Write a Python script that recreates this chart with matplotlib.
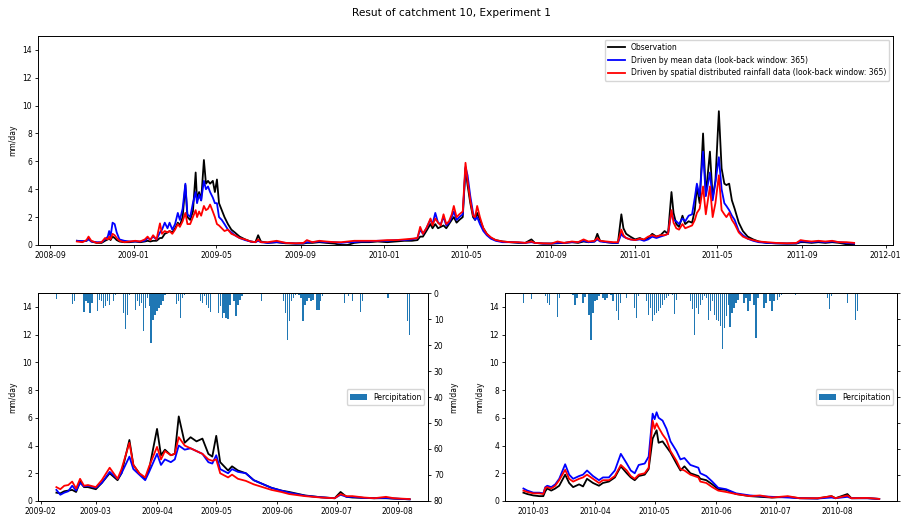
import matplotlib
matplotlib.use("Agg")
import matplotlib.pyplot as plt
import matplotlib.dates as mdates
import pandas as pd

# ---- top panel: whole test period ----
top_dates = [
    "2008-10-10", "2008-10-18", "2008-10-24", "2008-10-27", "2008-10-31", "2008-11-08",
    "2008-11-15", "2008-11-20", "2008-11-24", "2008-11-26", "2008-11-28", "2008-12-01",
    "2008-12-04", "2008-12-07", "2008-12-11", "2008-12-18", "2008-12-26", "2009-01-03",
    "2009-01-10", "2009-01-17", "2009-01-21", "2009-01-25", "2009-01-29", "2009-02-03",
    "2009-02-08", "2009-02-11", "2009-02-15", "2009-02-19", "2009-02-22", "2009-02-26",
    "2009-03-02", "2009-03-06", "2009-03-09", "2009-03-13", "2009-03-17", "2009-03-20",
    "2009-03-24", "2009-03-28", "2009-04-01", "2009-04-03", "2009-04-06", "2009-04-09",
    "2009-04-13", "2009-04-16", "2009-04-19", "2009-04-22", "2009-04-26", "2009-04-29",
    "2009-05-02", "2009-05-05", "2009-05-09", "2009-05-13", "2009-05-18", "2009-05-23",
    "2009-05-28", "2009-06-04", "2009-06-12", "2009-06-20", "2009-06-27", "2009-07-01",
    "2009-07-05", "2009-07-15", "2009-07-28", "2009-08-10", "2009-08-25", "2009-09-05",
    "2009-09-10", "2009-09-18", "2009-09-28", "2009-10-08", "2009-10-20", "2009-10-30",
    "2009-11-08", "2009-11-18", "2009-11-28", "2009-12-10", "2009-12-22", "2010-01-05",
    "2010-01-18", "2010-01-30", "2010-02-10", "2010-02-18", "2010-02-22", "2010-02-26",
    "2010-03-03", "2010-03-09", "2010-03-12", "2010-03-16", "2010-03-20", "2010-03-24",
    "2010-03-28", "2010-04-01", "2010-04-05", "2010-04-09", "2010-04-12", "2010-04-16",
    "2010-04-20", "2010-04-25", "2010-04-29", "2010-05-02", "2010-05-06", "2010-05-10",
    "2010-05-13", "2010-05-16", "2010-05-20", "2010-05-25", "2010-05-30", "2010-06-05",
    "2010-06-12", "2010-06-22", "2010-07-03", "2010-07-15", "2010-07-25", "2010-08-03",
    "2010-08-08", "2010-08-20", "2010-09-01", "2010-09-10", "2010-09-20", "2010-10-01",
    "2010-10-10", "2010-10-18", "2010-10-25", "2010-11-03", "2010-11-07", "2010-11-11",
    "2010-11-20", "2010-11-30", "2010-12-07", "2010-12-12", "2010-12-15", "2010-12-19",
    "2010-12-25", "2011-01-01", "2011-01-08", "2011-01-14", "2011-01-20", "2011-01-26",
    "2011-02-01", "2011-02-07", "2011-02-13", "2011-02-18", "2011-02-23", "2011-02-26",
    "2011-03-02", "2011-03-06", "2011-03-11", "2011-03-15", "2011-03-20", "2011-03-25",
    "2011-03-29", "2011-04-01", "2011-04-05", "2011-04-10", "2011-04-14", "2011-04-20",
    "2011-04-24", "2011-04-28", "2011-05-03", "2011-05-07", "2011-05-11", "2011-05-14",
    "2011-05-18", "2011-05-22", "2011-05-26", "2011-06-01", "2011-06-07", "2011-06-14",
    "2011-06-22", "2011-06-30", "2011-07-12", "2011-07-25", "2011-08-10", "2011-08-24",
    "2011-08-30", "2011-09-05", "2011-09-15", "2011-09-25", "2011-10-05", "2011-10-15",
    "2011-10-25", "2011-11-05", "2011-11-16",
]
top_obs = [
    0.3, 0.25, 0.3, 0.45, 0.25, 0.15, 0.15, 0.3, 0.4, 0.5, 0.35, 0.6,
    0.5, 0.35, 0.25, 0.2, 0.2, 0.25, 0.2, 0.25, 0.3, 0.25, 0.3, 0.3,
    0.5, 0.5, 0.8, 0.9, 1.0, 0.9, 1.2, 1.6, 1.4, 2.0, 4.3, 2.0,
    1.8, 2.4, 5.2, 3.2, 3.8, 3.2, 6.1, 4.4, 4.6, 4.4, 4.6, 3.8,
    4.7, 3.0, 2.5, 2.0, 1.5, 1.1, 0.9, 0.6, 0.4, 0.25, 0.2, 0.7,
    0.25, 0.15, 0.2, 0.12, 0.1, 0.1, 0.15, 0.15, 0.2, 0.15, 0.1, 0.0,
    0.0, 0.15, 0.2, 0.2, 0.25, 0.2, 0.25, 0.3, 0.3, 0.35, 0.6, 0.6,
    1.0, 1.5, 1.2, 1.5, 1.2, 1.3, 1.4, 1.2, 1.5, 1.8, 2.0, 1.6,
    1.8, 2.0, 5.5, 4.3, 3.0, 2.0, 1.8, 2.3, 1.8, 1.2, 0.8, 0.5,
    0.35, 0.25, 0.2, 0.15, 0.15, 0.4, 0.15, 0.1, 0.1, 0.12, 0.15, 0.2,
    0.15, 0.25, 0.2, 0.25, 0.8, 0.3, 0.2, 0.15, 0.15, 2.2, 1.2, 0.8,
    0.6, 0.4, 0.5, 0.35, 0.5, 0.8, 0.6, 0.7, 1.0, 0.8, 3.8, 2.3,
    1.5, 1.3, 2.1, 1.5, 1.7, 1.6, 2.5, 4.2, 3.0, 8.0, 3.6, 6.7,
    3.4, 4.6, 9.6, 5.5, 4.4, 4.3, 4.4, 3.2, 2.6, 1.6, 1.0, 0.6,
    0.4, 0.25, 0.15, 0.12, 0.1, 0.1, 0.2, 0.2, 0.15, 0.2, 0.15, 0.2,
    0.15, 0.05, 0.05,
]
top_mean = [
    0.3, 0.28, 0.3, 0.4, 0.25, 0.2, 0.2, 0.4, 0.6, 1.0, 0.6, 1.6,
    1.5, 0.9, 0.4, 0.3, 0.25, 0.25, 0.25, 0.3, 0.5, 0.4, 0.6, 0.4,
    0.9, 1.1, 1.6, 1.2, 1.6, 1.1, 1.5, 2.3, 1.8, 2.6, 4.4, 2.2,
    2.0, 3.0, 3.8, 3.0, 3.6, 3.2, 4.6, 4.0, 4.2, 3.8, 3.4, 3.0,
    3.0, 2.0, 1.8, 1.5, 1.1, 0.9, 0.7, 0.5, 0.35, 0.25, 0.2, 0.3,
    0.2, 0.15, 0.2, 0.15, 0.1, 0.12, 0.2, 0.2, 0.25, 0.2, 0.2, 0.15,
    0.2, 0.2, 0.25, 0.25, 0.3, 0.3, 0.35, 0.35, 0.4, 0.5, 1.1, 0.8,
    1.2, 1.8, 1.5, 2.3, 1.6, 1.5, 2.0, 1.4, 1.6, 2.0, 2.4, 1.8,
    2.0, 2.2, 5.6, 5.0, 3.5, 2.3, 1.8, 2.0, 1.5, 1.0, 0.7, 0.45,
    0.3, 0.2, 0.2, 0.18, 0.15, 0.2, 0.15, 0.1, 0.1, 0.15, 0.15, 0.2,
    0.2, 0.3, 0.2, 0.25, 0.4, 0.25, 0.2, 0.15, 0.15, 0.8, 0.6, 0.5,
    0.4, 0.35, 0.4, 0.3, 0.4, 0.6, 0.5, 0.6, 0.7, 0.8, 2.4, 1.8,
    1.7, 1.5, 1.9, 1.7, 2.1, 2.2, 3.4, 4.4, 3.5, 6.7, 3.5, 5.2,
    3.2, 4.5, 6.3, 4.0, 3.0, 2.8, 2.5, 2.1, 1.8, 1.0, 0.7, 0.45,
    0.3, 0.2, 0.15, 0.12, 0.1, 0.12, 0.25, 0.25, 0.2, 0.25, 0.2, 0.25,
    0.2, 0.15, 0.1,
]
top_spatial = [
    0.25, 0.2, 0.35, 0.6, 0.3, 0.15, 0.2, 0.5, 0.4, 0.6, 0.4, 0.8,
    0.7, 0.5, 0.3, 0.2, 0.25, 0.3, 0.25, 0.4, 0.6, 0.35, 0.7, 0.4,
    1.55, 0.8, 1.0, 0.9, 1.0, 0.8, 1.1, 1.5, 1.3, 1.7, 2.3, 1.5,
    1.5, 2.0, 2.5, 2.0, 2.4, 2.1, 2.8, 2.5, 2.6, 2.9, 2.4, 2.0,
    1.5, 1.4, 1.2, 1.0, 1.1, 0.8, 0.7, 0.5, 0.4, 0.25, 0.2, 0.4,
    0.2, 0.2, 0.3, 0.15, 0.12, 0.15, 0.35, 0.2, 0.3, 0.25, 0.2, 0.2,
    0.25, 0.3, 0.3, 0.3, 0.3, 0.35, 0.35, 0.4, 0.45, 0.5, 1.3, 0.8,
    1.2, 1.9, 1.4, 1.9, 1.6, 1.4, 2.2, 1.5, 1.7, 2.2, 2.8, 2.0,
    2.2, 2.4, 5.9, 4.6, 3.2, 2.1, 2.0, 2.8, 2.0, 1.2, 0.8, 0.55,
    0.35, 0.25, 0.2, 0.2, 0.15, 0.25, 0.15, 0.12, 0.1, 0.25, 0.15, 0.25,
    0.2, 0.4, 0.25, 0.3, 0.5, 0.3, 0.25, 0.2, 0.2, 1.1, 0.7, 0.5,
    0.4, 0.35, 0.45, 0.4, 0.6, 0.7, 0.6, 0.7, 0.7, 0.8, 2.5, 1.6,
    1.2, 1.1, 1.5, 1.2, 1.3, 1.4, 1.8, 2.3, 2.6, 4.2, 2.2, 4.2,
    2.0, 3.0, 5.0, 2.5, 2.2, 2.0, 2.3, 1.8, 1.5, 0.9, 0.6, 0.45,
    0.35, 0.25, 0.2, 0.15, 0.12, 0.15, 0.35, 0.3, 0.25, 0.3, 0.25, 0.3,
    0.2, 0.2, 0.15,
]

# ---- bottom left: spring 2009 ----
bl_dates = [
    "2009-02-09", "2009-02-11", "2009-02-13", "2009-02-15", "2009-02-17", "2009-02-19",
    "2009-02-21", "2009-02-23", "2009-02-25", "2009-03-01", "2009-03-04", "2009-03-08",
    "2009-03-12", "2009-03-14", "2009-03-18", "2009-03-20", "2009-03-23", "2009-03-26",
    "2009-03-28", "2009-04-01", "2009-04-03", "2009-04-05", "2009-04-08", "2009-04-10",
    "2009-04-12", "2009-04-15", "2009-04-18", "2009-04-21", "2009-04-24", "2009-04-27",
    "2009-04-29", "2009-05-01", "2009-05-03", "2009-05-07", "2009-05-09", "2009-05-12",
    "2009-05-16", "2009-05-20", "2009-05-29", "2009-06-03", "2009-06-07", "2009-06-15",
    "2009-06-23", "2009-06-30", "2009-07-03", "2009-07-06", "2009-07-09", "2009-07-15",
    "2009-07-20", "2009-07-26", "2009-07-30", "2009-08-07",
]
bl_obs = [
    0.6, 0.55, 0.7, 0.75, 0.8, 0.65, 1.4, 1.0, 1.0, 0.85, 1.3, 2.0,
    1.5, 2.0, 4.4, 2.6, 2.0, 1.6, 2.3, 5.2, 3.3, 3.7, 3.3, 3.4,
    6.1, 4.2, 4.6, 4.3, 4.5, 3.4, 3.2, 4.7, 2.8, 2.2, 2.5, 2.2,
    2.0, 1.5, 0.95, 0.75, 0.65, 0.4, 0.27, 0.2, 0.65, 0.3, 0.25, 0.22,
    0.2, 0.2, 0.17, 0.12,
]
bl_mean = [
    0.8, 0.45, 0.6, 0.7, 1.1, 0.75, 1.3, 1.05, 1.1, 0.95, 1.3, 2.1,
    1.6, 2.0, 3.2, 2.3, 1.9, 1.5, 2.1, 3.4, 2.6, 3.0, 2.8, 3.0,
    4.0, 3.7, 3.8, 3.6, 3.4, 2.8, 2.7, 3.3, 2.3, 2.0, 2.3, 2.1,
    2.0, 1.5, 0.95, 0.75, 0.6, 0.38, 0.27, 0.2, 0.45, 0.3, 0.3, 0.22,
    0.2, 0.22, 0.18, 0.12,
]
bl_spatial = [
    1.0, 0.85, 1.1, 1.15, 1.4, 0.9, 1.6, 1.1, 1.15, 1.0, 1.5, 2.4,
    1.6, 2.3, 4.2, 2.6, 2.0, 1.7, 2.5, 3.9, 3.0, 3.6, 3.3, 3.4,
    4.6, 4.0, 3.8, 3.6, 3.4, 3.0, 2.9, 3.0, 2.0, 1.7, 1.9, 1.6,
    1.45, 1.2, 0.8, 0.65, 0.5, 0.35, 0.25, 0.2, 0.5, 0.35, 0.35, 0.25,
    0.2, 0.3, 0.2, 0.14,
]
bl_rain_dates = [
    "2009-02-09", "2009-02-17", "2009-02-18", "2009-02-23", "2009-02-24", "2009-02-25",
    "2009-02-26", "2009-02-27", "2009-03-02", "2009-03-03", "2009-03-04", "2009-03-05",
    "2009-03-06", "2009-03-07", "2009-03-08", "2009-03-10", "2009-03-11", "2009-03-15",
    "2009-03-16", "2009-03-17", "2009-03-18", "2009-03-21", "2009-03-22", "2009-03-23",
    "2009-03-24", "2009-03-25", "2009-03-26", "2009-03-27", "2009-03-28", "2009-03-29",
    "2009-03-30", "2009-03-31", "2009-04-01", "2009-04-02", "2009-04-03", "2009-04-04",
    "2009-04-05", "2009-04-11", "2009-04-12", "2009-04-13", "2009-04-14", "2009-04-15",
    "2009-04-23", "2009-04-24", "2009-04-25", "2009-04-26", "2009-04-27", "2009-04-28",
    "2009-05-02", "2009-05-03", "2009-05-04", "2009-05-05", "2009-05-06", "2009-05-07",
    "2009-05-08", "2009-05-10", "2009-05-11", "2009-05-12", "2009-05-13", "2009-05-14",
    "2009-05-24", "2009-05-26", "2009-05-30", "2009-06-04", "2009-06-05", "2009-06-06",
    "2009-06-07", "2009-06-08", "2009-06-09", "2009-06-10", "2009-06-12", "2009-06-13",
    "2009-06-14", "2009-06-15", "2009-06-16", "2009-06-17", "2009-06-18", "2009-06-19",
    "2009-06-21", "2009-06-22", "2009-06-23", "2009-06-24", "2009-07-05", "2009-07-07",
    "2009-07-09", "2009-07-13", "2009-07-14", "2009-07-27", "2009-08-06", "2009-08-07",
]
bl_rain = [
    2.2, 4.2, 3.2, 7.3, 3.2, 3.8, 7.7, 3.8, 7.0, 2.5, 3.2, 5.8,
    5.1, 3.2, 4.7, 3.2, 0.6, 7.7, 13.8, 8.3, 0.9, 6.4, 3.2, 5.1,
    3.8, 14.5, 5.8, 1.9, 5.1, 19.2, 10.3, 8.3, 7.1, 5.8, 4.5, 3.2,
    0.6, 4.2, 3.2, 9.6, 1.9, 0.6, 3.2, 3.8, 1.3, 4.5, 5.8, 7.3,
    7.7, 5.1, 9.6, 7.7, 9.6, 9.9, 4.5, 3.2, 9.0, 4.5, 2.5, 1.3,
    3.2, 0.3, 0.3, 3.2, 7.7, 17.9, 10.9, 3.2, 1.9, 0.6, 0.6, 1.9,
    10.6, 4.5, 3.2, 1.9, 3.2, 2.5, 6.4, 6.4, 3.2, 1.3, 3.8, 1.3,
    2.9, 7.4, 3.2, 1.9, 10.9, 16.0,
]

# ---- bottom right: spring 2010 ----
br_dates = [
    "2010-02-24", "2010-02-26", "2010-03-01", "2010-03-04", "2010-03-06", "2010-03-07",
    "2010-03-08", "2010-03-10", "2010-03-12", "2010-03-14", "2010-03-17", "2010-03-19",
    "2010-03-21", "2010-03-24", "2010-03-26", "2010-03-28", "2010-03-31", "2010-04-03",
    "2010-04-05", "2010-04-08", "2010-04-11", "2010-04-14", "2010-04-17", "2010-04-19",
    "2010-04-21", "2010-04-23", "2010-04-26", "2010-04-28", "2010-04-30", "2010-05-01",
    "2010-05-02", "2010-05-03", "2010-05-05", "2010-05-07", "2010-05-09", "2010-05-12",
    "2010-05-14", "2010-05-16", "2010-05-19", "2010-05-21", "2010-05-23", "2010-05-24",
    "2010-05-27", "2010-05-30", "2010-06-02", "2010-06-06", "2010-06-11", "2010-06-18",
    "2010-06-23", "2010-06-29", "2010-07-07", "2010-07-13", "2010-07-22", "2010-07-29",
    "2010-07-31", "2010-08-06", "2010-08-08", "2010-08-16", "2010-08-22",
]
br_obs = [
    0.6, 0.5, 0.4, 0.35, 0.35, 0.7, 0.9, 0.75, 0.9, 1.1, 1.9, 1.3,
    1.0, 1.2, 1.05, 1.6, 1.3, 1.1, 1.3, 1.4, 1.7, 2.5, 2.0, 1.7,
    1.5, 1.8, 1.9, 2.3, 4.5, 4.8, 5.1, 4.2, 4.3, 3.9, 3.5, 2.7,
    2.2, 2.5, 2.0, 1.9, 1.8, 1.6, 1.5, 1.2, 0.85, 0.8, 0.5, 0.35,
    0.3, 0.25, 0.3, 0.2, 0.18, 0.35, 0.2, 0.5, 0.2, 0.2, 0.15,
]
br_mean = [
    0.9, 0.75, 0.6, 0.6, 0.55, 1.0, 1.1, 1.0, 1.2, 1.6, 2.65, 1.9,
    1.6, 1.8, 1.9, 2.2, 1.8, 1.5, 1.7, 1.7, 2.2, 3.4, 2.7, 2.2,
    2.0, 2.6, 2.7, 3.2, 6.3, 5.9, 6.4, 6.0, 5.8, 5.2, 4.3, 3.6,
    3.0, 3.1, 2.6, 2.5, 2.4, 2.0, 1.8, 1.4, 0.95, 0.85, 0.55, 0.4,
    0.35, 0.3, 0.25, 0.2, 0.18, 0.25, 0.2, 0.3, 0.2, 0.2, 0.15,
]
br_spatial = [
    0.75, 0.65, 0.55, 0.55, 0.5, 0.95, 1.0, 0.9, 1.1, 1.5, 2.25, 1.6,
    1.4, 1.6, 1.7, 1.9, 1.6, 1.3, 1.5, 1.5, 1.8, 2.6, 2.2, 1.8,
    1.6, 1.9, 2.0, 2.4, 5.8, 5.2, 5.6, 5.3, 4.8, 4.4, 3.6, 2.9,
    2.3, 2.2, 1.9, 1.8, 1.7, 1.4, 1.3, 1.0, 0.75, 0.65, 0.5, 0.35,
    0.4, 0.25, 0.35, 0.2, 0.2, 0.35, 0.2, 0.4, 0.2, 0.22, 0.15,
]
br_rain_dates = [
    "2010-02-24", "2010-02-28", "2010-03-07", "2010-03-08", "2010-03-09", "2010-03-13",
    "2010-03-14", "2010-03-21", "2010-03-22", "2010-03-23", "2010-03-26", "2010-03-27",
    "2010-03-29", "2010-03-30", "2010-03-31", "2010-04-01", "2010-04-02", "2010-04-03",
    "2010-04-05", "2010-04-06", "2010-04-07", "2010-04-09", "2010-04-10", "2010-04-12",
    "2010-04-13", "2010-04-14", "2010-04-17", "2010-04-21", "2010-04-22", "2010-04-23",
    "2010-04-27", "2010-04-28", "2010-04-29", "2010-04-30", "2010-05-01", "2010-05-02",
    "2010-05-03", "2010-05-04", "2010-05-05", "2010-05-06", "2010-05-07", "2010-05-08",
    "2010-05-10", "2010-05-11", "2010-05-12", "2010-05-19", "2010-05-20", "2010-05-21",
    "2010-05-22", "2010-05-23", "2010-05-24", "2010-05-25", "2010-05-26", "2010-05-27",
    "2010-05-28", "2010-05-29", "2010-05-30", "2010-05-31", "2010-06-01", "2010-06-02",
    "2010-06-03", "2010-06-04", "2010-06-05", "2010-06-06", "2010-06-07", "2010-06-08",
    "2010-06-09", "2010-06-10", "2010-06-11", "2010-06-12", "2010-06-15", "2010-06-16",
    "2010-06-17", "2010-06-18", "2010-06-20", "2010-06-21", "2010-06-22", "2010-06-25",
    "2010-06-26", "2010-06-28", "2010-06-29", "2010-06-30", "2010-07-02", "2010-07-03",
    "2010-07-04", "2010-07-11", "2010-07-27", "2010-07-28", "2010-07-29", "2010-08-06",
    "2010-08-10", "2010-08-11", "2010-08-14",
]
br_rain = [
    3.8, 2.2, 1.3, 3.8, 4.5, 9.2, 1.9, 0.9, 4.7, 1.9, 3.8, 1.7,
    8.3, 17.9, 7.7, 3.2, 2.5, 1.3, 1.9, 2.5, 1.9, 0.6, 3.2, 7.1,
    10.3, 3.8, 1.9, 5.8, 9.6, 1.3, 3.2, 8.3, 5.8, 10.6, 8.3, 7.7,
    7.1, 5.8, 4.5, 2.5, 1.9, 1.3, 0.9, 8.1, 2.5, 3.2, 6.0, 16.0,
    5.8, 8.1, 4.5, 2.5, 1.3, 1.9, 10.3, 7.1, 3.2, 8.3, 10.3, 10.9,
    12.8, 21.5, 13.5, 9.0, 4.5, 13.2, 7.7, 5.8, 3.8, 2.5, 3.8, 1.9,
    7.1, 3.2, 4.5, 17.3, 1.9, 5.8, 3.8, 3.2, 7.1, 3.2, 2.5, 1.7,
    0.6, 0.6, 1.9, 6.0, 1.3, 3.8, 10.5, 7.1, 0.4,
]

plt.rcParams['font.size'] = 5.5
plt.rcParams['axes.linewidth'] = 0.7
plt.rcParams['xtick.major.size'] = 2.2
plt.rcParams['ytick.major.size'] = 2.2
plt.rcParams['xtick.major.width'] = 0.6
plt.rcParams['ytick.major.width'] = 0.6
plt.rcParams['xtick.major.pad'] = 2
plt.rcParams['ytick.major.pad'] = 2

LW = 1.3

fig = plt.figure(figsize=(9.03, 5.21), dpi=100)
fig.suptitle("Resut of catchment 10, Experiment 1", fontsize=7.6, y=0.985)

# top
ax = fig.add_axes([0.0421, 0.5298, 0.9468, 0.4012])
t = pd.to_datetime(top_dates)
ax.plot(t, top_obs, color='black', lw=LW, label='Observation')
ax.plot(t, top_mean, color='blue', lw=LW, label='Driven by mean data (look-back window: 365)')
ax.plot(t, top_spatial, color='red', lw=LW,
        label='Driven by spatial distributed rainfall data (look-back window: 365)')
ax.set_ylim(0, 15)
ax.set_yticks(range(0, 15, 2))
ax.set_ylabel('mm/day')
ax.xaxis.set_major_locator(mdates.MonthLocator(bymonth=[1, 5, 9]))
ax.xaxis.set_major_formatter(mdates.DateFormatter('%Y-%m'))
ax.legend(loc='upper right', handlelength=2.2)


def event_panel(rect, dates, obs, mean, spatial, rain_dates, rain):
    a1 = fig.add_axes(rect)
    d = pd.to_datetime(dates)
    a1.plot(d, obs, color='black', lw=LW)
    a1.plot(d, mean, color='blue', lw=LW)
    a1.plot(d, spatial, color='red', lw=LW)
    a1.set_ylim(0, 15)
    a1.set_yticks(range(0, 15, 2))
    a1.set_ylabel('mm/day')
    a2 = a1.twinx()
    a2.bar(pd.to_datetime(rain_dates), rain, width=0.65, color='#1f77b4', label='Percipitation')
    a2.set_ylim(80, 0)
    a2.set_ylabel('mm/day')
    a2.legend(loc='center right', handlelength=2.2)
    a1.xaxis.set_major_locator(mdates.MonthLocator())
    a1.xaxis.set_major_formatter(mdates.DateFormatter('%Y-%m'))
    return a1, a2


event_panel([0.0421, 0.0384, 0.4319, 0.3992], bl_dates, bl_obs, bl_mean, bl_spatial,
            bl_rain_dates, bl_rain)
event_panel([0.5592, 0.0384, 0.4342, 0.3992], br_dates, br_obs, br_mean, br_spatial,
            br_rain_dates, br_rain)

fig.savefig('out.png', dpi=100)
